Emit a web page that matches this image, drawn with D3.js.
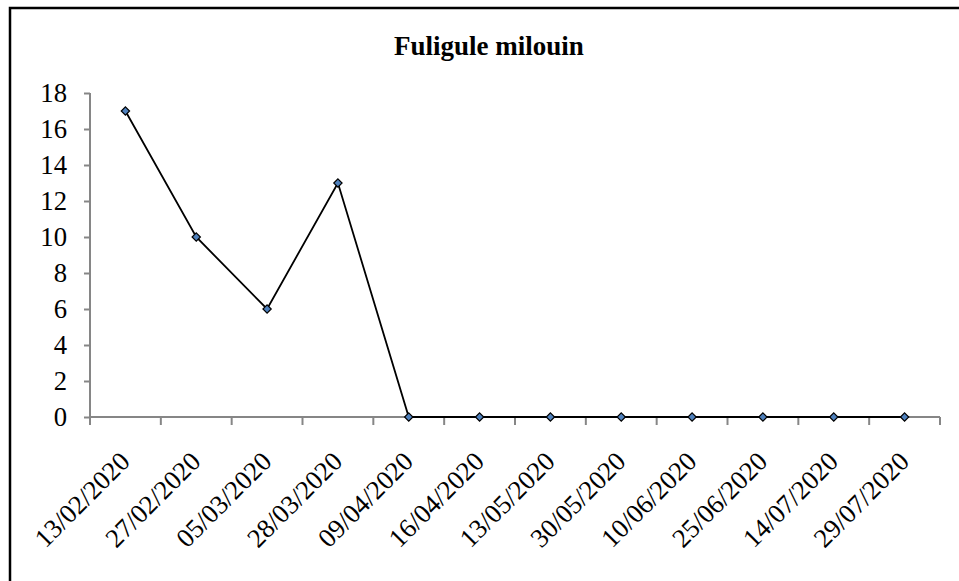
<!DOCTYPE html>
<html lang="fr">
<head>
    <meta charset="UTF-8">
    <title>Fuligule milouin</title>
    <script src="https://d3js.org/d3.v7.min.js"></script>
    <style>
        body {
            margin: 0;
            padding: 0;
            background: #fff;
            overflow: hidden;
        }
        .axis path,
        .axis line {
            stroke: #868686;
            stroke-width: 2px;
        }
        .axis text {
            font-family: "Liberation Serif", "Times New Roman", serif;
            font-size: 26.7px;
            fill: #000;
        }
    </style>
</head>
<body>
    <svg id="chart"></svg>

    <script>
        // données
        const dates = ["13/02/2020", "27/02/2020", "05/03/2020", "28/03/2020", "09/04/2020", "16/04/2020",
            "13/05/2020", "30/05/2020", "10/06/2020", "25/06/2020", "14/07/2020", "29/07/2020"];
        const counts = [17, 10, 6, 13, 0, 0, 0, 0, 0, 0, 0, 0];
        const yTicks = [0, 2, 4, 6, 8, 10, 12, 14, 16, 18];

        const W = 959, H = 581;
        const margin = { top: 93, right: 19, bottom: 164, left: 90 };
        const width = W - margin.left - margin.right;
        const height = H - margin.top - margin.bottom;

        const root = d3.select("#chart")
            .attr("width", W)
            .attr("height", H)
            .style("display", "block");

        // cadre (côtés droit et bas hors de l'image)
        root.append("rect")
            .attr("x", 10)
            .attr("y", 8)
            .attr("width", 1000)
            .attr("height", 620)
            .attr("fill", "none")
            .attr("stroke", "#000")
            .attr("stroke-width", 2.5);

        root.append("text")
            .attr("x", 489)
            .attr("y", 55)
            .attr("text-anchor", "middle")
            .style("font-family", "'Liberation Serif', 'Times New Roman', serif")
            .style("font-weight", "bold")
            .style("font-size", "27px")
            .text("Fuligule milouin");

        const svg = root.append("g")
            .attr("transform", `translate(${margin.left},${margin.top})`);

        const x = d3.scaleBand().domain(dates).range([0, width]);
        const y = d3.scaleLinear().domain([0, 18]).range([height, 0]);

        // axe x
        const xAxis = svg.append("g")
            .attr("class", "axis")
            .attr("transform", `translate(0,${height})`)
            .call(d3.axisBottom(x).tickSize(0).tickSizeOuter(0));
        xAxis.select(".domain").attr("d", `M0,0H${width}`);
        // graduations entre les catégories
        xAxis.selectAll(".sep")
            .data(d3.range(dates.length + 1))
            .join("line")
            .attr("class", "sep")
            .attr("x1", i => i * x.step())
            .attr("x2", i => i * x.step())
            .attr("y1", 0)
            .attr("y2", 8);
        xAxis.selectAll(".tick text")
            .attr("text-anchor", "end")
            .attr("dy", 0)
            .attr("x", 0)
            .attr("y", 0)
            .attr("transform", "translate(6,46) rotate(-45)");

        // axe y
        const yAxis = svg.append("g")
            .attr("class", "axis")
            .call(d3.axisLeft(y).tickValues(yTicks).tickSize(6).tickSizeOuter(0).tickPadding(17));
        yAxis.select(".domain").attr("d", `M0,${height}V0`);

        // courbe
        const line = d3.line()
            .x((d, i) => x(dates[i]) + x.bandwidth() / 2)
            .y(d => y(d));

        svg.append("path")
            .datum(counts)
            .attr("fill", "none")
            .attr("stroke", "#000")
            .attr("stroke-width", 1.8)
            .attr("d", line);

        svg.selectAll(".pt")
            .data(counts)
            .join("path")
            .attr("class", "pt")
            .attr("d", d3.symbol(d3.symbolDiamond2, 44))
            .attr("transform", (d, i) => `translate(${x(dates[i]) + x.bandwidth() / 2},${y(d)})`)
            .attr("fill", "#4f81bd")
            .attr("stroke", "#000")
            .attr("stroke-width", 1.2);
    </script>
</body>
</html>
